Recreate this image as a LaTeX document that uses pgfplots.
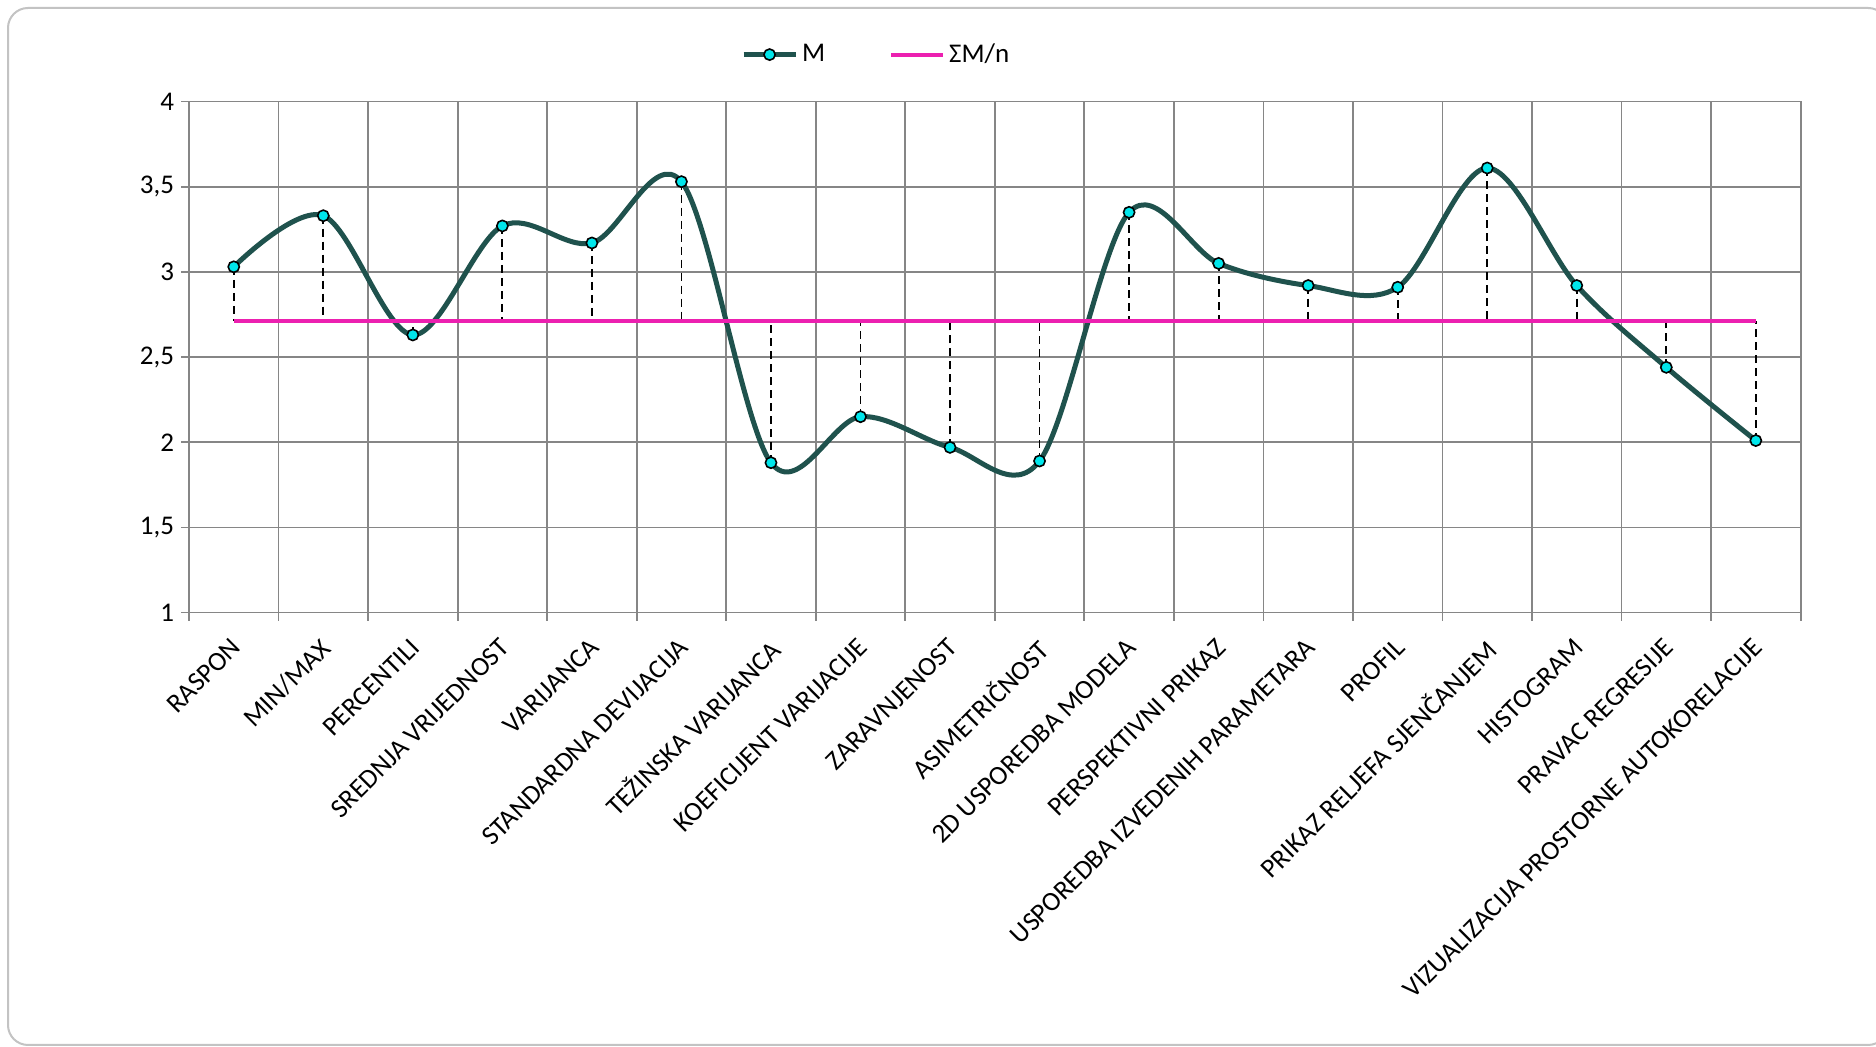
\documentclass[border=0pt]{standalone}
\usepackage{fontspec}
\setmainfont{Carlito}
\usepackage{pgfplots}
\pgfplotsset{compat=1.18}
\definecolor{mline}{RGB}{31,82,77}
\definecolor{mmark}{RGB}{0,230,235}
\definecolor{avg}{RGB}{236,32,176}
\definecolor{gridc}{RGB}{134,134,134}
\definecolor{framec}{RGB}{195,195,195}
\begin{document}
\begin{tikzpicture}
\useasboundingbox (0,0) rectangle (938pt,523.5pt);
\fill[white] (0,0) rectangle (938pt,523.5pt);
\draw[framec, line width=1pt, rounded corners=10pt] (4pt,1pt) rectangle (944pt,519.5pt);
\begin{axis}[
  at={(94.5pt,217.2pt)}, anchor=south west,
  width=805.8pt, height=255.5pt, scale only axis,
  xmin=-0.5, xmax=17.5, ymin=1, ymax=4,
  xtick={0,...,17},
  xticklabels={RASPON, MIN/MAX, PERCENTILI, SREDNJA VRIJEDNOST, VARIJANCA, STANDARDNA DEVIJACIJA, TEŽINSKA VARIJANCA, KOEFICIJENT VARIJACIJE, ZARAVNJENOST, ASIMETRIČNOST, 2D USPOREDBA MODELA, PERSPEKTIVNI PRIKAZ, USPOREDBA IZVEDENIH PARAMETARA, PROFIL, PRIKAZ RELJEFA SJENČANJEM, HISTOGRAM, PRAVAC REGRESIJE, VIZUALIZACIJA PROSTORNE AUTOKORELACIJE},
  major x tick style={draw=none},
  minor xtick={-0.5,0.5,...,17.5},
  xminorgrids=true,
  ytick={1,1.5,...,4},
  ymajorgrids=true,
  grid style={gridc, line width=0.9pt},
  minor grid style={gridc, line width=0.9pt},
  axis line style={gridc, line width=0.9pt},
  tick style={gridc, line width=0.9pt},
  minor tick style={gridc, line width=0.9pt},
  tick align=outside,
  major tick length=4pt, minor tick length=4pt,
  xtick pos=bottom, ytick pos=left,
  /pgf/number format/assume math mode=true,
  yticklabel style={/pgf/number format/.cd, use comma, fixed, precision=1, /tikz/.cd, font=\fontsize{13.5}{16}\selectfont},
  xticklabel style={xshift=-2pt, yshift=-6.5pt, rotate=45, anchor=north east, font=\fontsize{13.5}{16}\selectfont, inner sep=1pt},
  legend columns=2,
  legend style={at={(0.427,1.092)}, anchor=center, draw=none, fill=none, font=\fontsize{13.5}{16}\selectfont, /tikz/every even column/.append style={column sep=30pt}},
  legend image code/.code={\draw[mark repeat=2,mark phase=2,#1] plot coordinates {(0pt,0pt) (13pt,0pt) (26pt,0pt)};},
  unbounded coords=jump,
]
\addplot[black, line width=0.9pt, dash pattern=on 4pt off 2.5pt, forget plot] coordinates {
 (0,3.03) (0,2.71) (0,nan)
 (1,3.33) (1,2.71) (1,nan)
 (2,2.63) (2,2.71) (2,nan)
 (3,3.27) (3,2.71) (3,nan)
 (4,3.17) (4,2.71) (4,nan)
 (5,3.53) (5,2.71) (5,nan)
 (6,1.88) (6,2.71) (6,nan)
 (7,2.15) (7,2.71) (7,nan)
 (8,1.97) (8,2.71) (8,nan)
 (9,1.89) (9,2.71) (9,nan)
 (10,3.35) (10,2.71) (10,nan)
 (11,3.05) (11,2.71) (11,nan)
 (12,2.92) (12,2.71) (12,nan)
 (13,2.91) (13,2.71) (13,nan)
 (14,3.61) (14,2.71) (14,nan)
 (15,2.92) (15,2.71) (15,nan)
 (16,2.44) (16,2.71) (16,nan)
 (17,2.01) (17,2.71)
};
\addplot[mline, line width=2.5pt, smooth, tension=0.55, mark=*, mark size=2.8pt, mark options={fill=mmark, draw=black, line width=0.8pt, solid}] coordinates {
 (0,3.03) (1,3.33) (2,2.63) (3,3.27) (4,3.17) (5,3.53) (6,1.88) (7,2.15) (8,1.97) (9,1.89)
 (10,3.35) (11,3.05) (12,2.92) (13,2.91) (14,3.61) (15,2.92) (16,2.44) (17,2.01)
};
\addlegendentry{M}
\addplot[avg, line width=2pt, no marks] coordinates {(0,2.71) (17,2.71)};
\addlegendentry{ΣM/n}
\end{axis}
\end{tikzpicture}
\end{document}
